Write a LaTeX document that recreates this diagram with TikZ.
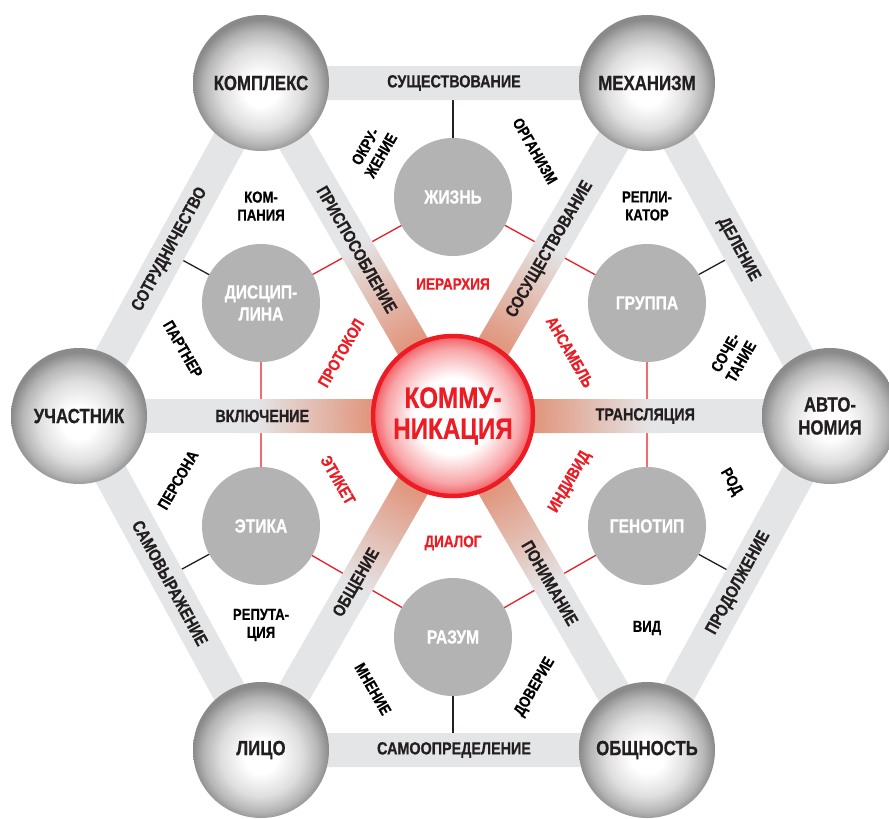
\documentclass[tikz,border=0pt]{standalone}
\usepackage{fontspec}
\setmainfont{Liberation Sans}[FakeStretch=0.82, BoldFeatures={FakeBold=0.6}]
\usetikzlibrary{calc,backgrounds}
\definecolor{barC}{RGB}{228,229,231}
\definecolor{spokeC}{RGB}{225,152,128}
\definecolor{redC}{RGB}{237,28,36}
\definecolor{innerC}{RGB}{179,179,179}
\definecolor{inkC}{RGB}{35,31,32}
\pgfdeclareradialshading{sphere}{\pgfpoint{0bp}{-3bp}}{color(0bp)=(white); color(6bp)=(white); color(15bp)=(black!13); color(21bp)=(black!29); color(25bp)=(black!46); color(50bp)=(black!46)}
\pgfdeclareradialshading{hub}{\pgfpoint{0bp}{0bp}}{color(0bp)=(white); color(12bp)=(white); color(21bp)=(redC!40); color(25bp)=(redC!72); color(50bp)=(redC!72)}
\pgfdeclareradialshading{spokefade}{\pgfpoint{0bp}{0bp}}{color(0bp)=(spokeC); color(10bp)=(spokeC); color(23bp)=(barC); color(50bp)=(barC)}
\begin{document}
\begin{tikzpicture}[x=1pt,y=-1pt,
  bar/.style={line width=34pt, draw=barC},
  thinblack/.style={line width=1.3pt, draw=inkC},
  thinred/.style={line width=1.3pt, draw=redC},
  outer/.style={circle, minimum size=136pt, inner sep=0pt, shading=sphere, font=\bfseries\fontsize{20.5}{23}\selectfont, align=center, text=inkC},
  inner/.style={circle, minimum size=118pt, inner sep=0pt, fill=innerC, text=white, font=\bfseries\fontsize{19}{22}\selectfont, align=center},
  hubnode/.style={circle, minimum size=160pt, inner sep=0pt, shading=hub, draw=redC, line width=4.5pt, text=redC, font=\bfseries\fontsize{29.5}{31}\selectfont, align=center},
  barlabel/.style={font=\bfseries\fontsize{17.5}{19}\selectfont, text=inkC, sloped},
  freelab/.style={font=\bfseries\fontsize{16}{18}\selectfont, text=black, align=center},
  redlab/.style={font=\bfseries\fontsize{16.5}{18}\selectfont, text=redC, align=center}
]
\useasboundingbox (0,0) rectangle (889,819);
% outer nodes
\node[outer] (K) at (261,83) {КОМПЛЕКС};
\node[outer] (M) at (647,83) {МЕХАНИЗМ};
\node[outer] (U) at (79,416) {УЧАСТНИК};
\node[outer] (A) at (830,416) {АВТО-\\НОМИЯ};
\node[outer] (L) at (261,750) {ЛИЦО};
\node[outer] (O) at (647,750) {ОБЩНОСТЬ};
% inner nodes
\node[inner] (zh) at (453,197) {ЖИЗНЬ};
\node[inner] (gr) at (647,303) {ГРУППА};
\node[inner] (gn) at (647,526) {ГЕНОТИП};
\node[inner] (rz) at (453,637) {РАЗУМ};
\node[inner] (et) at (261,526) {ЭТИКА};
\node[inner] (ds) at (261,303) {ДИСЦИП-\\ЛИНА};
% hub
\node[hubnode] (H) at (453,416) {КОММУ-\\НИКАЦИЯ};

\begin{scope}[on background layer]
  % red ring
  \draw[thinred] (zh.center) -- (gr.center) -- (gn.center) -- (rz.center) -- (et.center) -- (ds.center) -- cycle;
  % black ticks
  \draw[thinblack] (zh.center) -- ($(K.center)!(zh.center)!(M.center)$);
  \draw[thinblack] (gr.center) -- ($(M.center)!(gr.center)!(A.center)$);
  \draw[thinblack] (gn.center) -- ($(A.center)!(gn.center)!(O.center)$);
  \draw[thinblack] (rz.center) -- ($(O.center)!(rz.center)!(L.center)$);
  \draw[thinblack] (et.center) -- ($(L.center)!(et.center)!(U.center)$);
  \draw[thinblack] (ds.center) -- ($(U.center)!(ds.center)!(K.center)$);
  % hexagon bars
  \draw[bar] (K.center) -- (M.center) -- (A.center) -- (O.center) -- (L.center) -- (U.center) -- cycle;
  % spokes
  \foreach \n in {K,M,A,O,L,U} {
    \draw[bar] (H.center) -- (\n.center);
  }
  % spoke glow
  \begin{scope}
    \clip
      ($(H.center)!17pt!90:(K.center)$) -- ($(K.center)!17pt!-90:(H.center)$) -- ($(K.center)!17pt!90:(H.center)$) -- ($(H.center)!17pt!-90:(K.center)$) -- cycle
      ($(H.center)!17pt!90:(M.center)$) -- ($(M.center)!17pt!-90:(H.center)$) -- ($(M.center)!17pt!90:(H.center)$) -- ($(H.center)!17pt!-90:(M.center)$) -- cycle
      ($(H.center)!17pt!90:(A.center)$) -- ($(A.center)!17pt!-90:(H.center)$) -- ($(A.center)!17pt!90:(H.center)$) -- ($(H.center)!17pt!-90:(A.center)$) -- cycle
      ($(H.center)!17pt!90:(O.center)$) -- ($(O.center)!17pt!-90:(H.center)$) -- ($(O.center)!17pt!90:(H.center)$) -- ($(H.center)!17pt!-90:(O.center)$) -- cycle
      ($(H.center)!17pt!90:(L.center)$) -- ($(L.center)!17pt!-90:(H.center)$) -- ($(L.center)!17pt!90:(H.center)$) -- ($(H.center)!17pt!-90:(L.center)$) -- cycle
      ($(H.center)!17pt!90:(U.center)$) -- ($(U.center)!17pt!-90:(H.center)$) -- ($(U.center)!17pt!90:(H.center)$) -- ($(H.center)!17pt!-90:(U.center)$) -- cycle;
    \shade[shading=spokefade] (H.center) circle (215);
  \end{scope}
\end{scope}

% labels on hexagon bars
\path (K.center) -- (M.center) node[barlabel, midway] {СУЩЕСТВОВАНИЕ};
\path (L.center) -- (O.center) node[barlabel, midway] {САМООПРЕДЕЛЕНИЕ};
\path (U.center) -- (K.center) node[barlabel, midway] {СОТРУДНИЧЕСТВО};
\path (U.center) -- (L.center) node[barlabel, midway] {САМОВЫРАЖЕНИЕ};
\path (M.center) -- (A.center) node[barlabel, midway] {ДЕЛЕНИЕ};
\path (O.center) -- (A.center) node[barlabel, midway] {ПРОДОЛЖЕНИЕ};
% labels on spokes
\path (H.center) -- (U.center) node[barlabel, pos=0.51] {ВКЛЮЧЕНИЕ};
\path (H.center) -- (A.center) node[barlabel, pos=0.51] {ТРАНСЛЯЦИЯ};
\path (H.center) -- (K.center) node[barlabel, midway] {ПРИСПОСОБЛЕНИЕ};
\path (H.center) -- (M.center) node[barlabel, midway] {СОСУЩЕСТВОВАНИЕ};
\path (H.center) -- (L.center) node[barlabel, midway] {ОБЩЕНИЕ};
\path (H.center) -- (O.center) node[barlabel, midway] {ПОНИМАНИЕ};

% free black labels
\node[freelab, rotate=60] (t1) at (373,151) {ОКРУ-\\ЖЕНИЕ};
\node[freelab, rotate=-60] (t2) at (535,151) {ОРГАНИЗМ};
\node[freelab] (t3) at (261,206) {КОМ-\\ПАНИЯ};
\node[freelab] (t4) at (647,206) {РЕПЛИ-\\КАТОР};
\node[freelab, rotate=-60] (t5) at (183,349) {ПАРТНЕР};
\node[freelab, rotate=60] (t6) at (733,357) {СОЧЕ-\\ТАНИЕ};
\node[freelab, rotate=60] (t7) at (178,480) {ПЕРСОНА};
\node[freelab, rotate=-60] (t8) at (731,482) {РОД};
\node[freelab] (t9) at (261,625) {РЕПУТА-\\ЦИЯ};
\node[freelab] (t10) at (647,628) {ВИД};
\node[freelab, rotate=-60] (t11) at (373,689) {МНЕНИЕ};
\node[freelab, rotate=60] (t12) at (535,687) {ДОВЕРИЕ};
% red labels
\node[redlab] (r1) at (453,284) {ИЕРАРХИЯ};
\node[redlab] (r2) at (453,543) {ДИАЛОГ};
\node[redlab, rotate=60] (r3) at (341,353) {ПРОТОКОЛ};
\node[redlab, rotate=-60] (r4) at (570,352) {АНСАМБЛЬ};
\node[redlab, rotate=-60] (r5) at (338,480) {ЭТИКЕТ};
\node[redlab, rotate=60] (r6) at (570,482) {ИНДИВИД};
\end{tikzpicture}
\end{document}
